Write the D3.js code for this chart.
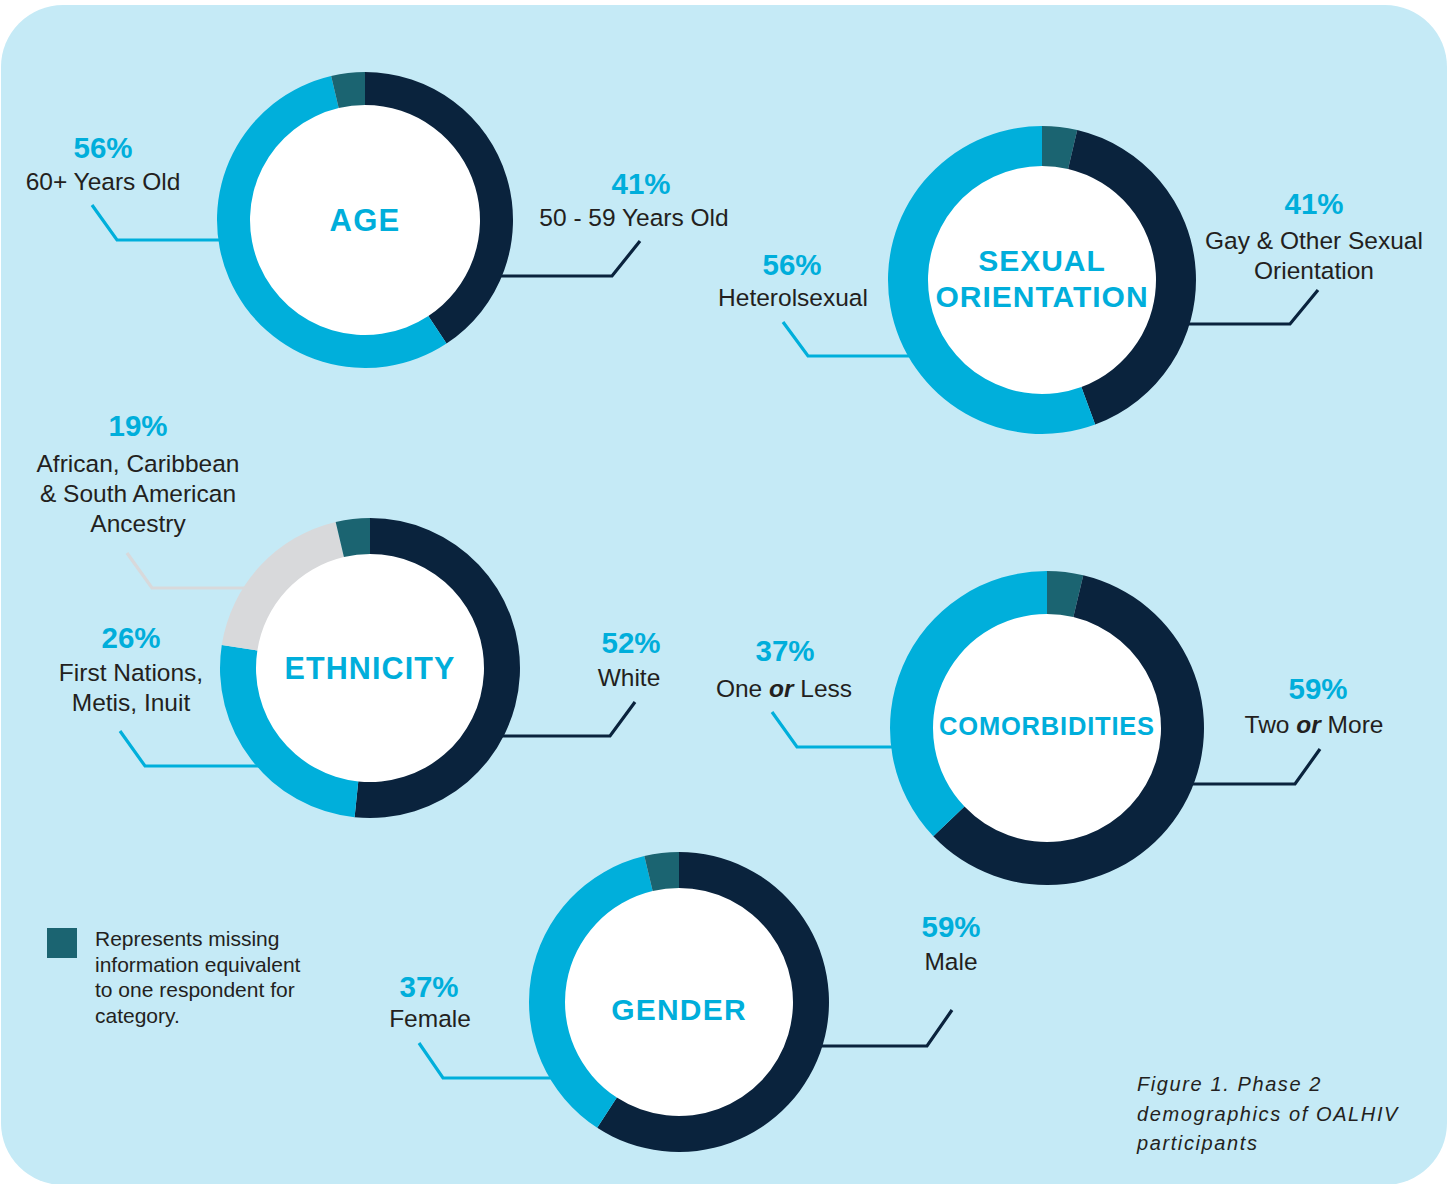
<!DOCTYPE html>
<html><head><meta charset="utf-8">
<script src="https://cdn.jsdelivr.net/npm/d3@7"></script>
<style>
html,body{margin:0;padding:0;background:#fff;}
svg{display:block;}
text{font-family:"Liberation Sans",Arial,Helvetica,sans-serif;}
</style></head>
<body>
<svg id="c" width="1453" height="1184"></svg>
<script>
// ---------- DATA (segments listed clockwise from 12 o'clock) ----------
const chartTitles = [["AGE"], ["SEXUAL", "ORIENTATION"], ["ETHNICITY"], ["COMORBIDITIES"], ["GENDER"]];

const ageCategories = ["50 - 59 Years Old", "60+ Years Old", "Missing"];
const ageValues = [41, 56, 3.7];

const sexualCategories = ["Missing", "Gay & Other Sexual Orientation", "Heterolsexual"];
const sexualValues = [3.7, 41, 56];

const ethnicityCategories = ["White", "First Nations, Metis, Inuit", "African, Caribbean & South American Ancestry", "Missing"];
const ethnicityValues = [52, 26, 19, 3.7];

const comorbCategories = ["Missing", "Two or More", "One or Less"];
const comorbValues = [3.7, 59, 37];

const genderCategories = ["Male", "Female", "Missing"];
const genderValues = [59, 37, 3.7];

const legendText = ["Represents missing", "information equivalent", "to one respondent for", "category."];
const captionText = ["Figure 1. Phase 2", "demographics of OALHIV", "participants"];

// ---------- STYLE ----------
const colorByCat = {
  "Missing": "#1b6471",
  "50 - 59 Years Old": "#0a233d", "60+ Years Old": "#00afdb",
  "Gay & Other Sexual Orientation": "#0a233d", "Heterolsexual": "#00afdb",
  "White": "#0a233d", "First Nations, Metis, Inuit": "#00afdb", "African, Caribbean & South American Ancestry": "#d8d9db",
  "Two or More": "#0a233d", "One or Less": "#00afdb",
  "Male": "#0a233d", "Female": "#00afdb"
};
const BLUE = "#00aedb", TEXT = "#231f20";

// ---------- LAYOUT ----------
const charts = [
  {cats: ageCategories, vals: ageValues, cx: 365, cy: 220, R: 148, r: 115, titleSize: 31, ls: 1.2, titleY: [231],
   labels: [
     {cat: "50 - 59 Years Old", side: 1, lineY: 276, elbowX: 612, tipX: 640, tipY: 241, tx: 634, pctX: 641, pctY: 194, lines: [["50 - 59 Years Old"]], lineY0: 226},
     {cat: "60+ Years Old", side: -1, lineY: 240, elbowX: 117, tipX: 92, tipY: 205, tx: 103, pctX: 103, pctY: 158, lines: [["60+ Years Old"]], lineY0: 190}
   ]},
  {cats: sexualCategories, vals: sexualValues, cx: 1042, cy: 280, R: 154, r: 114, titleSize: 30, ls: 1, titleY: [271, 307],
   labels: [
     {cat: "Gay & Other Sexual Orientation", side: 1, lineY: 324, elbowX: 1290, tipX: 1318, tipY: 290, tx: 1314, pctX: 1314, pctY: 214, lines: [["Gay & Other Sexual"], ["Orientation"]], lineY0: 249},
     {cat: "Heterolsexual", side: -1, lineY: 356, elbowX: 808, tipX: 783, tipY: 322, tx: 793, pctX: 792, pctY: 275, lines: [["Heterolsexual"]], lineY0: 306}
   ]},
  {cats: ethnicityCategories, vals: ethnicityValues, cx: 370, cy: 668, R: 150, r: 114, titleSize: 30.5, ls: 1.1, titleY: [679],
   labels: [
     {cat: "White", side: 1, lineY: 736, elbowX: 610, tipX: 635, tipY: 702, tx: 629, pctX: 631, pctY: 653, lines: [["White"]], lineY0: 686},
     {cat: "First Nations, Metis, Inuit", side: -1, lineY: 766, elbowX: 145, tipX: 120, tipY: 731, tx: 131, pctX: 131, pctY: 648, lines: [["First Nations,"], ["Metis, Inuit"]], lineY0: 681},
     {cat: "African, Caribbean & South American Ancestry", side: -1, lineY: 588, elbowX: 152, tipX: 127, tipY: 553, tx: 138, pctX: 138, pctY: 436, lines: [["African, Caribbean"], ["& South American"], ["Ancestry"]], lineY0: 472}
   ]},
  {cats: comorbCategories, vals: comorbValues, cx: 1047, cy: 728, R: 157, r: 114, titleSize: 25.5, ls: 0.8, titleY: [735],
   labels: [
     {cat: "Two or More", side: 1, lineY: 784, elbowX: 1295, tipX: 1320, tipY: 749, tx: 1314, pctX: 1318, pctY: 699, lines: [["Two ", "or", " More"]], lineY0: 733},
     {cat: "One or Less", side: -1, lineY: 747, elbowX: 797, tipX: 772, tipY: 712, tx: 784, pctX: 785, pctY: 661, lines: [["One ", "or", " Less"]], lineY0: 697}
   ]},
  {cats: genderCategories, vals: genderValues, cx: 679, cy: 1002, R: 150, r: 114, titleSize: 30, ls: 1.2, titleY: [1020],
   labels: [
     {cat: "Male", side: 1, lineY: 1046, elbowX: 927, tipX: 952, tipY: 1010, tx: 951, pctX: 951, pctY: 937, lines: [["Male"]], lineY0: 970},
     {cat: "Female", side: -1, lineY: 1078, elbowX: 443, tipX: 419, tipY: 1043, tx: 430, pctX: 429, pctY: 997, lines: [["Female"]], lineY0: 1027}
   ]}
];

const svg = d3.select("#c");

// background panel
svg.append("rect").attr("x", 1).attr("y", 5).attr("width", 1446).attr("height", 1180)
  .attr("rx", 62).attr("ry", 62).attr("fill", "#c5eaf6");

const pie = d3.pie().sort(null).value(d => d.v).startAngle(0).endAngle(2 * Math.PI);

charts.forEach((c, i) => {
  const data = c.cats.map((cat, k) => ({cat, v: c.vals[k]}));
  const arcs = pie(data);
  const g = svg.append("g");

  // leader lines (drawn beneath ring)
  c.labels.forEach(L => {
    const dy = L.lineY - c.cy;
    const startX = c.cx + L.side * Math.sqrt(c.R * c.R - dy * dy) - L.side * 6;
    const path = d3.path();
    path.moveTo(startX, L.lineY);
    path.lineTo(L.elbowX, L.lineY);
    path.lineTo(L.tipX, L.tipY);
    g.append("path").attr("d", path.toString()).attr("fill", "none")
      .attr("stroke", colorByCat[L.cat]).attr("stroke-width", 3.2).attr("stroke-linejoin", "miter");
  });

  const arc = d3.arc().innerRadius(c.r).outerRadius(c.R);
  const ring = g.append("g").attr("transform", `translate(${c.cx},${c.cy})`);
  ring.append("circle").attr("r", c.r + 1).attr("fill", "#fff");
  ring.selectAll("path.seg").data(arcs).join("path").attr("class", "seg")
    .attr("d", arc).attr("fill", d => colorByCat[d.data.cat]);

  // title
  chartTitles[i].forEach((t, k) => {
    g.append("text").attr("x", c.cx).attr("y", c.titleY[k]).attr("text-anchor", "middle")
      .attr("font-size", c.titleSize).attr("font-weight", "bold").attr("letter-spacing", c.ls)
      .attr("fill", BLUE).text(t);
  });

  // labels
  c.labels.forEach(L => {
    const v = c.vals[c.cats.indexOf(L.cat)];
    g.append("text").attr("x", L.pctX).attr("y", L.pctY).attr("text-anchor", "middle")
      .attr("font-size", 29.5).attr("font-weight", "bold").attr("fill", BLUE).text(v + "%");
    L.lines.forEach((parts, k) => {
      const t = g.append("text").attr("x", L.tx).attr("y", L.lineY0 + k * 30).attr("text-anchor", "middle")
        .attr("font-size", 24.5).attr("fill", TEXT);
      parts.forEach(p => {
        const s = t.append("tspan").text(p);
        if (p === "or") s.attr("font-style", "italic").attr("font-weight", "bold");
      });
    });
  });
});

// legend
svg.append("rect").attr("x", 47).attr("y", 928).attr("width", 30).attr("height", 30).attr("fill", colorByCat["Missing"]);
legendText.forEach((t, k) => {
  svg.append("text").attr("x", 95).attr("y", 946 + k * 25.7).attr("font-size", 21).attr("fill", TEXT).text(t);
});

// caption
captionText.forEach((t, k) => {
  svg.append("text").attr("x", 1137).attr("y", 1091 + k * 29.5).attr("font-size", 20).attr("font-style", "italic")
    .attr("letter-spacing", 1.6).attr("fill", TEXT).text(t);
});
</script>
</body></html>
